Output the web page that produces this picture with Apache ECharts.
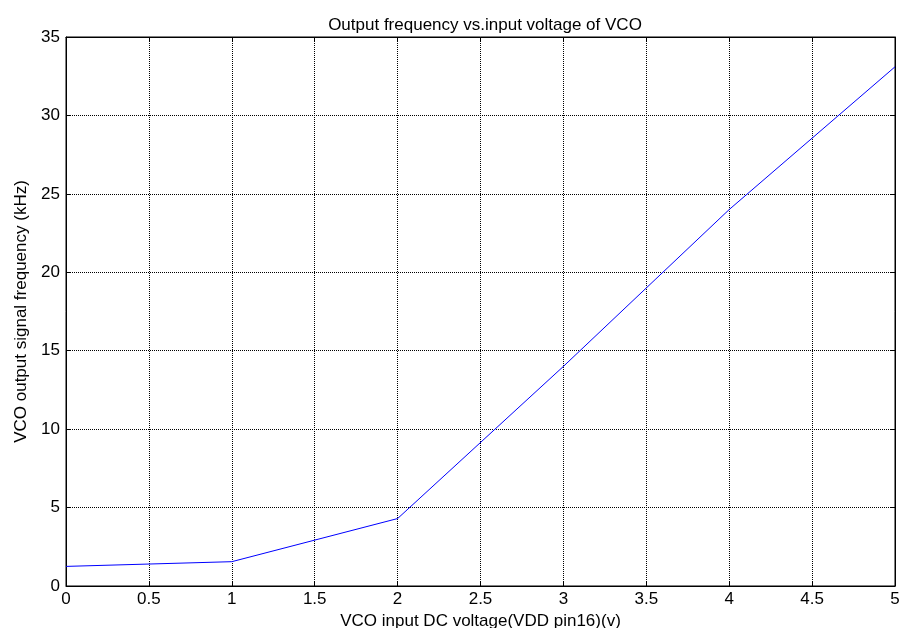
<!DOCTYPE html>
<html>
<head>
<meta charset="utf-8">
<script src="https://cdn.jsdelivr.net/npm/echarts@6/dist/echarts.min.js"></script>
<style>
  html, body { margin: 0; padding: 0; background: #fff; }
  #chart { width: 900px; height: 628px; }
</style>
</head>
<body>
<div id="chart"></div>
<script>
// VCO transfer curve: DC input voltage (V) against output frequency (kHz)
const voltage = [0, 1, 2, 3, 4, 5];
const frequency = [1.25, 1.55, 4.3, 14.0, 24.0, 33.1];

const xTicks = { min: 0, max: 5, interval: 0.5 };
const yTicks = { min: 0, max: 35, interval: 5 };

const FONT = '"Liberation Sans", Arial, sans-serif';
const FS = 17;

const chart = echarts.init(document.getElementById('chart'), null, { renderer: 'canvas' });

const gridLine = { show: true, lineStyle: { color: '#000', width: 1, type: [1, 1] } };
const frameLine = { show: true, onZero: false, lineStyle: { color: '#000', width: 1 } };
const inTicks = { show: true, inside: true, length: 5, lineStyle: { color: '#000' } };

chart.setOption({
  animation: false,
  backgroundColor: '#fff',
  title: {
    text: 'Output frequency vs.input voltage of VCO',
    left: 480, top: 12, textAlign: 'center',
    textStyle: { fontFamily: FONT, fontSize: FS, fontWeight: 'normal', color: '#000' }
  },
  grid: {
    left: 66, right: 5, top: 37, bottom: 42,
    outerBoundsMode: 'none',
    show: true, borderColor: '#000', borderWidth: 1
  },
  xAxis: [{
    type: 'value', position: 'bottom',
    min: xTicks.min, max: xTicks.max, interval: xTicks.interval,
    name: 'VCO input DC voltage(VDD pin16)(v)',
    nameLocation: 'middle', nameGap: 21,
    nameTextStyle: { fontFamily: FONT, fontSize: FS, color: '#000' },
    axisLine: frameLine, axisTick: inTicks,
    axisLabel: { fontFamily: FONT, fontSize: FS, color: '#000', margin: 5 },
    splitLine: gridLine
  }, {
    type: 'value', position: 'top',
    min: xTicks.min, max: xTicks.max, interval: xTicks.interval,
    axisLine: frameLine, axisTick: inTicks,
    axisLabel: { show: false }, splitLine: { show: false }
  }],
  yAxis: [{
    type: 'value', position: 'left',
    min: yTicks.min, max: yTicks.max, interval: yTicks.interval,
    name: 'VCO output signal frequency (kHz)',
    nameLocation: 'middle', nameGap: 36,
    nameTextStyle: { fontFamily: FONT, fontSize: FS, color: '#000' },
    axisLine: frameLine, axisTick: inTicks,
    axisLabel: { fontFamily: FONT, fontSize: FS, color: '#000', margin: 6 },
    splitLine: gridLine
  }, {
    type: 'value', position: 'right',
    min: yTicks.min, max: yTicks.max, interval: yTicks.interval,
    axisLine: frameLine, axisTick: inTicks,
    axisLabel: { show: false }, splitLine: { show: false }
  }],
  series: [{
    type: 'line',
    data: voltage.map((v, i) => [v, frequency[i]]),
    showSymbol: false,
    lineStyle: { color: '#0000ff', width: 1 },
    itemStyle: { color: '#0000ff' }
  }]
});
</script>
</body>
</html>
